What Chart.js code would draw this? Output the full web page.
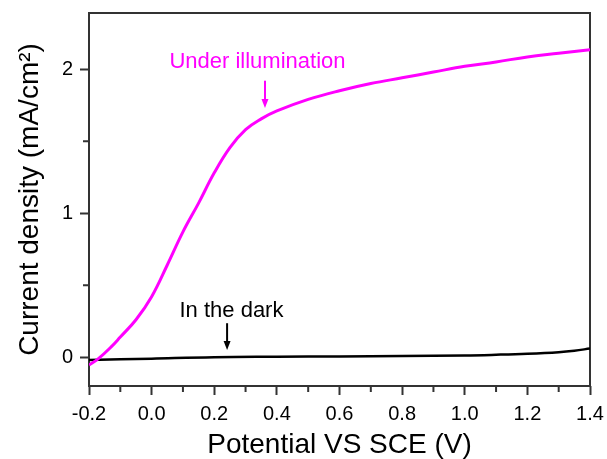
<!DOCTYPE html>
<html>
<head>
<meta charset="utf-8">
<script src="https://cdn.jsdelivr.net/npm/chart.js@4"></script>
<style>
  html, body { margin: 0; padding: 0; background: #fff; }
</style>
</head>
<body>
<canvas id="jv" width="607" height="459"></canvas>
<script>
// photocurrent under illumination (magenta)
const lightX = [-0.2, -0.17, -0.13, -0.1, -0.05, 0.0, 0.05, 0.1, 0.15, 0.2, 0.25, 0.3, 0.35, 0.4, 0.5, 0.6, 0.7, 0.8, 0.9, 1.0, 1.1, 1.2, 1.3, 1.4];
const lightY = [-0.055, -0.01, 0.07, 0.14, 0.26, 0.42, 0.64, 0.87, 1.07, 1.28, 1.455, 1.58, 1.655, 1.71, 1.79, 1.85, 1.90, 1.94, 1.98, 2.02, 2.05, 2.085, 2.11, 2.135];
// dark current (black)
const darkX = [-0.2, 0.0, 0.2, 0.4, 0.6, 0.8, 1.0, 1.1, 1.2, 1.3, 1.35, 1.4];
const darkY = [-0.02, -0.01, 0.0, 0.003, 0.005, 0.008, 0.012, 0.017, 0.024, 0.035, 0.045, 0.06];

const xTicks = [-0.2, 0.0, 0.2, 0.4, 0.6, 0.8, 1.0, 1.2, 1.4];
const xMinor = [-0.1, 0.1, 0.3, 0.5, 0.7, 0.9, 1.1, 1.3];
const yTicks = [0, 1, 2];
const yMinor = [0.5, 1.5];

const FONT = '"Liberation Sans", Arial, sans-serif';

// text labels with arrows, anchored in data units
const notes = [
  { text: 'Under illumination', color: '#ff00ff', x: 0.338, y: 2.05, arrowX: 0.362, from: 1.92, to: 1.73 },
  { text: 'In the dark', color: '#000000', x: 0.255, y: 0.32, arrowX: 0.241, from: 0.236, to: 0.05 },
];

const toPoints = (xs, ys) => xs.map((v, i) => ({ x: v, y: ys[i] }));

// box around the plot + the small minor ticks
const framePlugin = {
  id: 'frame',
  beforeDatasetsDraw(chart) {
    const { ctx, chartArea: a, scales: { x, y } } = chart;
    ctx.save();
    ctx.strokeStyle = '#333';
    ctx.lineWidth = 2;
    ctx.strokeRect(a.left, a.top, a.right - a.left, a.bottom - a.top);
    ctx.beginPath();
    xMinor.forEach(v => {
      const px = x.getPixelForValue(v);
      ctx.moveTo(px, a.bottom);
      ctx.lineTo(px, a.bottom + 6);
    });
    yMinor.forEach(v => {
      const py = y.getPixelForValue(v);
      ctx.moveTo(a.left, py);
      ctx.lineTo(a.left - 6, py);
    });
    ctx.stroke();
    ctx.restore();
  }
};

const notesPlugin = {
  id: 'notes',
  afterDatasetsDraw(chart) {
    const { ctx, scales: { x, y } } = chart;
    ctx.save();
    notes.forEach(n => {
      ctx.fillStyle = n.color;
      ctx.strokeStyle = n.color;
      ctx.font = '22px ' + FONT;
      ctx.textAlign = 'center';
      ctx.textBaseline = 'middle';
      ctx.fillText(n.text, x.getPixelForValue(n.x), y.getPixelForValue(n.y));

      const ax = x.getPixelForValue(n.arrowX);
      const y0 = y.getPixelForValue(n.from);
      const y1 = y.getPixelForValue(n.to);
      ctx.lineWidth = 2;
      ctx.beginPath();
      ctx.moveTo(ax, y0);
      ctx.lineTo(ax, y1 - 8);
      ctx.stroke();
      ctx.beginPath();
      ctx.moveTo(ax - 3.5, y1 - 9);
      ctx.lineTo(ax + 3.5, y1 - 9);
      ctx.lineTo(ax, y1);
      ctx.closePath();
      ctx.fill();
    });
    ctx.restore();
  }
};

new Chart(document.getElementById('jv'), {
  type: 'line',
  data: {
    datasets: [
      {
        label: 'Under illumination',
        data: toPoints(lightX, lightY),
        borderColor: '#ff00ff',
        borderWidth: 3,
        pointRadius: 0,
        tension: 0.4,
      },
      {
        label: 'In the dark',
        data: toPoints(darkX, darkY),
        borderColor: '#000000',
        borderWidth: 2.5,
        pointRadius: 0,
        tension: 0.4,
      },
    ],
  },
  options: {
    responsive: false,
    devicePixelRatio: 1,
    animation: false,
    layout: { padding: { left: 0, top: 13, right: 17, bottom: 0 } },
    plugins: { legend: { display: false }, tooltip: { enabled: false } },
    scales: {
      x: {
        type: 'linear',
        position: 'bottom',
        min: -0.2,
        max: 1.4,
        afterBuildTicks: axis => { axis.ticks = xTicks.map(v => ({ value: v })); },
        afterFit: axis => { axis.height = 73; axis.paddingLeft = 0; axis.paddingRight = 0; },
        grid: { drawOnChartArea: false, drawTicks: true, tickLength: 9, tickColor: '#333', tickWidth: 2 },
        border: { display: false },
        ticks: {
          padding: 7,
          color: '#000',
          font: { family: FONT, size: 20, lineHeight: 1.2 },
          maxRotation: 0,
          callback: v => v.toFixed(1),
        },
        title: {
          display: true,
          text: 'Potential VS SCE (V)',
          color: '#000',
          font: { family: FONT, size: 28, lineHeight: 1 },
          padding: { top: 0, bottom: 0 },
        },
      },
      y: {
        type: 'linear',
        min: -0.2,
        max: 2.39,
        afterBuildTicks: axis => { axis.ticks = yTicks.map(v => ({ value: v })); },
        afterFit: axis => { axis.width = 89; axis.paddingTop = 0; axis.paddingBottom = 0; },
        grid: { drawOnChartArea: false, drawTicks: true, tickLength: 9, tickColor: '#333', tickWidth: 2 },
        border: { display: false },
        ticks: {
          padding: 7,
          color: '#000',
          font: { family: FONT, size: 20, lineHeight: 1.2 },
          callback: v => String(v),
        },
        title: {
          display: true,
          text: 'Current density (mA/cm²)',
          color: '#000',
          font: { family: FONT, size: 28, lineHeight: 1.2 },
          padding: { top: 13, bottom: 0 },
        },
      },
    },
  },
  plugins: [framePlugin, notesPlugin],
});
</script>
</body>
</html>
